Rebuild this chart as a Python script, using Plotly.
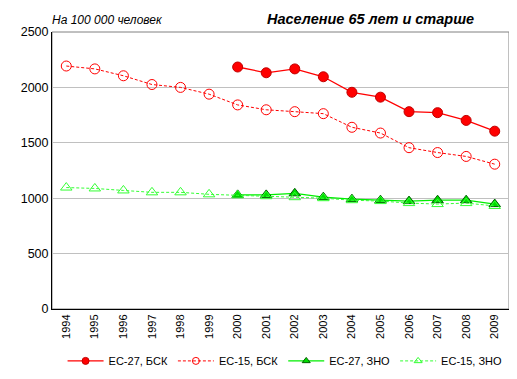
import plotly.graph_objects as go

years = [str(y) for y in range(1994, 2010)]
years27 = [str(y) for y in range(2000, 2010)]
ec27_bsk = [2184, 2132, 2167, 2096, 1956, 1912, 1781, 1772, 1702, 1605]
ec15_bsk = [2193, 2167, 2105, 2026, 2000, 1939, 1842, 1798, 1781, 1763, 1640, 1588, 1456, 1412, 1377, 1307]
ec27_zno = [1030, 1030, 1044, 1009, 991, 982, 974, 982, 982, 947]
ec15_zno = [1096, 1088, 1070, 1053, 1053, 1035, 1026, 1018, 1009, 1000, 982, 974, 956, 947, 956, 930]
names = ["ЕС-27, БСК", "ЕС-15, БСК", "ЕС-27, ЗНО", "ЕС-15, ЗНО"]

styles = [
    dict(line=dict(color="#ff0000", width=1.3), sym="circle", mcol="#ff0000", mline="#c00000"),
    dict(line=dict(color="#ff0000", width=1, dash="3px,2px"), sym="circle-open", mcol="#ff0000", mline="#ff0000"),
    dict(line=dict(color="#00ee00", width=1.3), sym="triangle-up", mcol="#00dd00", mline="#006000"),
    dict(line=dict(color="#33ff33", width=1, dash="3px,2px"), sym="triangle-up-open", mcol="#33ff33", mline="#33ff33"),
]
series = [(years27, ec27_bsk), (years, ec15_bsk), (years27, ec27_zno), (years, ec15_zno)]

fig = go.Figure()
for (xs, ys), nm, st in zip(series, names, styles):
    fig.add_trace(go.Scatter(x=xs, y=ys, name=nm, mode="lines+markers", showlegend=False,
                             line=st["line"],
                             marker=dict(symbol=st["sym"], size=10, color=st["mcol"],
                                         line=dict(color=st["mline"], width=1))))
for nm, st in zip(names, styles):
    fig.add_trace(go.Scatter(x=[None], y=[None], name=nm, mode="lines+markers", showlegend=True,
                             line=st["line"],
                             marker=dict(symbol=st["sym"], size=7, color=st["mcol"],
                                         line=dict(color=st["mline"], width=1))))

fig.update_layout(
    width=517, height=379,
    margin=dict(l=44, r=16, t=24, b=70),
    paper_bgcolor="white", plot_bgcolor="white",
    font=dict(family="Liberation Sans, Arial", size=11, color="black"),
    showlegend=True,
    legend=dict(orientation="h", x=0.51, xanchor="center", y=-0.135, yanchor="top",
                font=dict(size=11), itemwidth=36, tracegroupgap=0),
    xaxis=dict(type="category", categoryorder="array", categoryarray=years,
               tickangle=-90, showgrid=False, showline=True, linecolor="black", linewidth=1,
               ticks="", mirror=False, range=[-0.5, 15.5], automargin=False,
               tickfont=dict(size=11)),
    yaxis=dict(range=[0, 2500], dtick=500, showgrid=True, gridcolor="#c0c0c0", gridwidth=1,
               showline=True, linecolor="black", linewidth=1, ticks="",
               zeroline=False, automargin=False, tickfont=dict(size=12.5)),
    shapes=[dict(type="rect", xref="paper", yref="paper", x0=0, y0=0, x1=1, y1=1,
                 line=dict(color="#808080", width=1), layer="below")],
    annotations=[
        dict(text="<i>На 100 000 человек</i>", xref="paper", yref="paper", x=-0.004, y=1.0,
             xanchor="left", yanchor="bottom", showarrow=False, font=dict(size=12), yshift=3),
        dict(text="<b><i>Население 65 лет и старше</i></b>", xref="paper", yref="paper", x=0.698, y=1.0,
             xanchor="center", yanchor="bottom", showarrow=False, font=dict(size=14.5), yshift=3),
    ],
)
fig.write_html("out.html")
